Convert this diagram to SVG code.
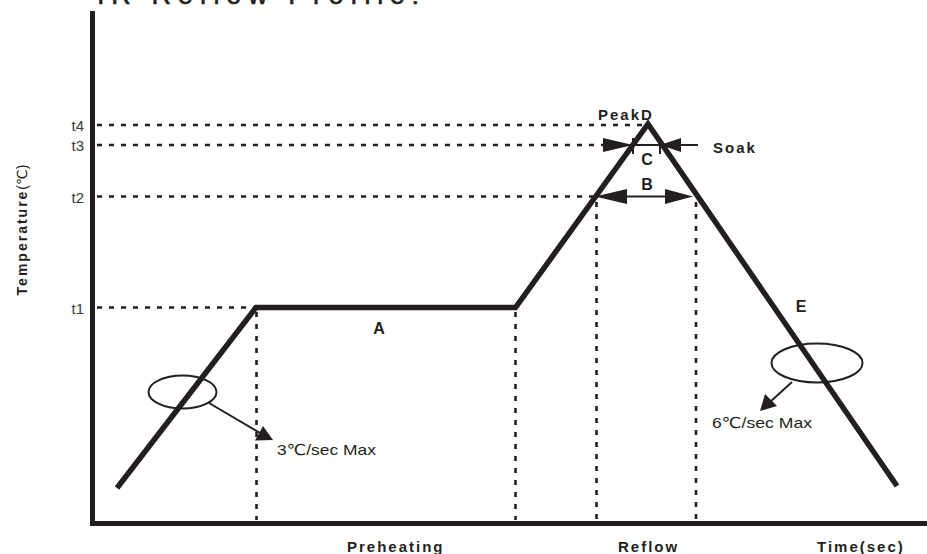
<svg xmlns="http://www.w3.org/2000/svg" width="927" height="554" viewBox="0 0 927 554">
<style>
text{font-family:"Liberation Sans",Arial,"DejaVu Sans",sans-serif;fill:#231f20}
.b{font-weight:bold;font-size:15px;letter-spacing:2px}
.L{font-weight:bold;font-size:16px}
.t{font-size:15px;fill:#3a3a3a}
.r{font-size:15px}
.axis{stroke:#231f20;stroke-width:5;fill:none}
.prof{stroke:#231f20;stroke-width:5.5;fill:none;stroke-linejoin:miter}
.dash{stroke:#231f20;stroke-width:2.6;stroke-dasharray:5 7;fill:none}
.thin{stroke:#231f20;stroke-width:2;fill:none}
.ah{fill:#231f20}
</style>
<rect width="927" height="554" fill="#fff"/>
<text x="97" y="3.5" font-size="27" textLength="322" lengthAdjust="spacing" style="stroke:#231f20;stroke-width:0.6">IR Reflow Profile:</text>
<g id="axes">
<line class="axis" x1="92.5" y1="11" x2="92.5" y2="526"/>
<line class="axis" x1="90" y1="523.5" x2="927" y2="523.5"/>
<text transform="translate(27,230) rotate(-90)" text-anchor="middle" style="font-size:14px;font-weight:bold;letter-spacing:2px">Temperature<tspan style="font-weight:normal;letter-spacing:0">(℃)</tspan></text>
<text class="t" x="84" y="131" text-anchor="end">t4</text>
<text class="t" x="84" y="151" text-anchor="end">t3</text>
<text class="t" x="84" y="203" text-anchor="end">t2</text>
<text class="t" x="84" y="314" text-anchor="end">t1</text>
<text class="b" x="347" y="552">Preheating</text>
<text class="b" x="618" y="552">Reflow</text>
<text class="b" x="817" y="552">Time(sec)</text>
</g>
<g id="connectors">
<line class="dash" x1="97" y1="125" x2="642" y2="125"/>
<line class="dash" x1="97" y1="145" x2="603" y2="145"/>
<line class="dash" x1="97" y1="196.5" x2="595" y2="196.5"/>
<line class="dash" x1="97" y1="307.5" x2="254" y2="307.5"/>
<line class="dash" x1="256.5" y1="312" x2="256.5" y2="520"/>
<line class="dash" x1="515.5" y1="312" x2="515.5" y2="520"/>
<line class="dash" x1="596.5" y1="202" x2="596.5" y2="520"/>
<line class="dash" x1="696" y1="202" x2="696" y2="520"/>
</g>
<g id="profile">
<polyline class="prof" points="117,488 256,307.5 515.5,307.5 648,124 897,486"/>
</g>
<g id="soak">
<line class="thin" x1="633" y1="138" x2="633" y2="154"/>
<line class="thin" x1="660" y1="138" x2="660" y2="154"/>
<line class="thin" x1="633" y1="145" x2="698" y2="145"/>
<polygon class="ah" points="603,138 633,145 603,152"/>
<polygon class="ah" points="681,138 660,145 681,152"/>
<text class="b" x="713" y="153">Soak</text>
<text class="L" x="647" y="165" text-anchor="middle">C</text>
</g>
<g id="peak">
<text class="b" x="598" y="120">PeakD</text>
</g>
<g id="reflowB">
<line class="thin" x1="620" y1="196.5" x2="670" y2="196.5"/>
<polygon class="ah" points="595,196.5 627,189 627,204"/>
<polygon class="ah" points="693,196.5 665,189 665,204"/>
<text class="L" x="647" y="190" text-anchor="middle">B</text>
</g>
<g id="labelA">
<text class="L" x="379" y="334" text-anchor="middle">A</text>
</g>
<g id="labelE">
<text class="L" x="801" y="312" text-anchor="middle">E</text>
</g>
<g id="ramp-up">
<ellipse class="thin" cx="182.5" cy="392" rx="34" ry="16.5"/>
<line class="thin" x1="209" y1="403" x2="260" y2="433"/>
<polygon class="ah" points="273,440 255,440.5 263,426"/>
<text class="r" x="277" y="455" textLength="99" lengthAdjust="spacingAndGlyphs">3℃/sec Max</text>
</g>
<g id="ramp-down">
<ellipse class="thin" cx="817" cy="363" rx="45.5" ry="19.5"/>
<line class="thin" x1="792" y1="382" x2="770" y2="402"/>
<polygon class="ah" points="760,411 765,394 777,406"/>
<text class="r" x="712" y="428" textLength="100" lengthAdjust="spacingAndGlyphs">6℃/sec Max</text>
</g>
</svg>
